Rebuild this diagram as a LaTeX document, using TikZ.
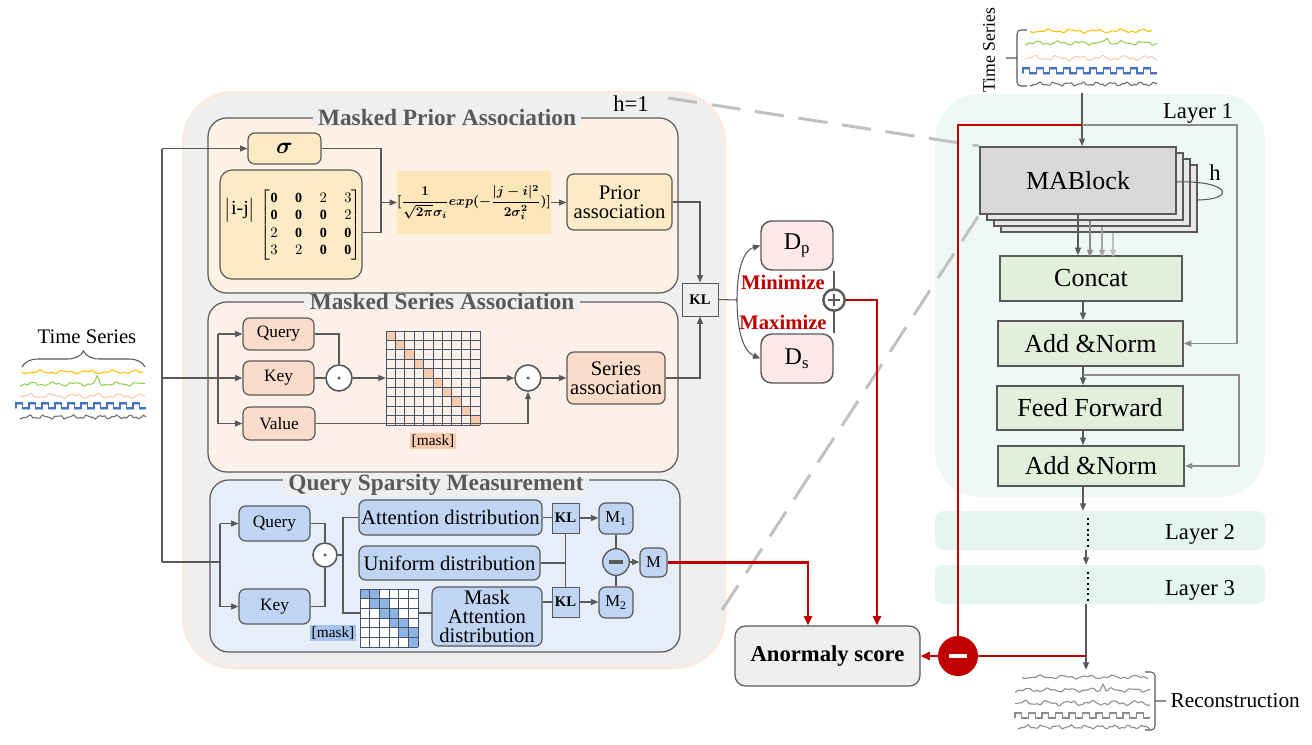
\documentclass[tikz,border=0pt]{standalone}
\usepackage{amsmath}
\usepackage{fontspec}
\setmainfont{Liberation Serif}
\usetikzlibrary{fit,arrows.meta,decorations.pathreplacing,calc}

\definecolor{lc}{HTML}{595959}
\definecolor{bgg}{HTML}{EFEFEF}
\definecolor{bgb}{HTML}{FCE9DC}
\definecolor{mpaf}{HTML}{FEF2E6}
\definecolor{yel}{HTML}{FDEBC6}
\definecolor{yel2}{HTML}{FDE6B9}
\definecolor{msaf}{HTML}{FDF0E9}
\definecolor{pch}{HTML}{F9DCC9}
\definecolor{qsmf}{HTML}{E8EEF9}
\definecolor{blu}{HTML}{C0D4F3}
\definecolor{blu2}{HTML}{8EB4E3}
\definecolor{pnk}{HTML}{FDE9EA}
\definecolor{rd}{HTML}{C00000}
\definecolor{l1f}{HTML}{EEF9F7}
\definecolor{l2f}{HTML}{E5F6F2}
\definecolor{grn}{HTML}{E2EFDA}
\definecolor{mab}{HTML}{D9D9D9}
\definecolor{mabb}{HTML}{E8E8E8}
\definecolor{dsh}{HTML}{C0C0C0}
\definecolor{tyel}{HTML}{FFC000}
\definecolor{tgrn}{HTML}{92D050}
\definecolor{tpch}{HTML}{F8CBAD}
\definecolor{tblu}{HTML}{4472C4}
\definecolor{tgry}{HTML}{6F6F6F}
\definecolor{gridc}{HTML}{44546A}
\definecolor{lg}{HTML}{8C8C8C}

\newcommand\fsz[1]{\fontsize{#1}{#1}\selectfont}
\newcommand\mkbox[7]{\node[inner sep=0pt, minimum width={(#4-#2)*0.75pt}, minimum height={(#5-#3)*0.75pt}, #6] (#1) at ({(#2+#4)/2},{(#3+#5)/2}) {#7};}
% x0 x1 y amp freq phase color spike
\newcommand\tswave[8]{\draw[#7, line width=0.8pt, line join=round] plot[domain=#1:#2, samples=90] (\x, {#3 + #4*(0.55*sin(#5*(\x-#1)+#6) + 0.3*sin(2.3*#5*(\x-#1)+2*#6) + 0.15*sin(3.7*#5*(\x-#1))) - 7*max(0,1-abs(\x-#8)/3)});}
% x0 y n halfperiod height color
\newcommand\tssq[6]{\draw[#6, line width=0.9pt] (#1,#2) \foreach \i in {1,...,#3}{ -- ++(0,-#5) -- ++(#4,0) -- ++(0,#5) -- ++(#4,0)};}

\begin{document}
\begin{tikzpicture}[x=0.75pt,y=-0.75pt,
  box/.style={draw=lc, line width=0.9pt, rounded corners=5pt},
  ln/.style={draw=lc, line width=0.8pt},
  arr/.style={ln, -{Triangle[length=5.5pt,width=4.5pt]}},
  rline/.style={draw=rd, line width=2.2pt},
  rarr/.style={rline, -{Triangle[length=7pt,width=6pt]}},
  gbox/.style={draw=lc, line width=1.5pt, fill=grn, font=\fsz{19.5}},
  ttl/.style={fill=bgg, inner xsep=4pt, inner ysep=0pt, text=lc, font=\fsz{17.5}\bfseries},
  dline/.style={draw=dsh, line width=2.2pt, dash pattern=on 22pt off 11pt},
  circ/.style={circle, draw=lc, line width=1.2pt, fill=white, inner sep=0pt, minimum size=19pt}
]
\useasboundingbox (0,0) rectangle (1312,744);
\fill[white] (0,0) rectangle (1312,744);

% ---------- big left panel ----------
\mkbox{panel}{183}{92}{725}{668}{draw=bgb, line width=1.5pt, fill=bgg, rounded corners=38pt}{}
\node[font=\fsz{17}] (h1t) at (631,104) {h=1};

% ---------- Masked Prior Association ----------
\mkbox{mpa}{208}{118}{678}{293}{draw=lc, line width=0.9pt, fill=mpaf, rounded corners=14pt}{}
\node[ttl] (mpat) at (447,118) {Masked Prior Association};
\mkbox{sig}{248}{133}{321}{164}{box, fill=yel, font=\fsz{17}}{$\boldsymbol{\sigma}$}
\mkbox{mat}{220}{170}{362}{279}{box, fill=yel, rounded corners=9pt}{}
\node[font=\fsz{15}, inner sep=0pt] (ij) at (240,210) {$\big|$i-j$\big|$};
\node[font=\fsz{10.5}, inner sep=0pt] (mtx) at (311,225) {$\renewcommand\arraystretch{1.25}\setlength\arraycolsep{6.5pt}\begin{bmatrix}\mathbf{0}&\mathbf{0}&2&3\\ \mathbf{0}&\mathbf{0}&\mathbf{0}&2\\ 2&\mathbf{0}&\mathbf{0}&\mathbf{0}\\ 3&2&\mathbf{0}&\mathbf{0}\end{bmatrix}$};
\mkbox{frm}{398}{171}{550}{234}{fill=yel2, font=\fsz{10.3}}{{\boldmath$\displaystyle[\frac{1}{\sqrt{2\pi}\sigma_i}exp(-\frac{|j-i|^2}{2\sigma_i^2})]$}}
\mkbox{pri}{567}{174}{672}{230}{box, fill=yel, align=center, font=\fontsize{15.5}{14.5}\selectfont}{Prior\\association}

\coordinate (j1) at (381,202.5);
\draw[ln] (sig.east) -| (j1);
\draw[ln] ($(mat.east)+(0,8)$) -| (j1);
\draw[arr] (j1) -- (frm.west);
\draw[arr] (frm.east) -- (frm.east -| pri.west);

% ---------- Masked Series Association ----------
\mkbox{msa}{208}{302}{678}{472}{draw=lc, line width=0.9pt, fill=msaf, rounded corners=14pt}{}
\node[ttl] (msat) at (442,302) {Masked Series Association};
\mkbox{q1}{243}{318}{314}{350}{box, fill=pch, font=\fsz{13}}{Query}
\mkbox{k1}{243}{361}{314}{395}{box, fill=pch, font=\fsz{13}}{Key}
\mkbox{v1}{243}{407}{315}{440}{box, fill=pch, font=\fsz{13}}{Value}
\node[circ, minimum size=19.5pt] (od1) at (339,378) {};
\fill[lc] (od1) circle (1.3pt);
\node[inner sep=0pt, fit={(386,331)(480,425)}] (g1) {};
\foreach \i in {0,...,9} \fill[tpch] ({386+9.4*\i},{331+9.4*\i}) rectangle ++(9.4,9.4);
\foreach \i in {0,...,10} {\draw[gridc, line width=0.6pt] ({386+9.4*\i},331) -- ({386+9.4*\i},425); \draw[gridc, line width=0.6pt] (386,{331+9.4*\i}) -- (480,{331+9.4*\i});}
\node[fill=tpch, inner sep=1pt, font=\fsz{11.5}] (mk1) at (433,441) {[mask]};
\node[circ, minimum size=19.5pt] (od2) at (528,378) {};
\fill[lc] (od2) circle (1.3pt);
\mkbox{sa}{567}{352}{665}{404}{box, fill=pch, align=center, font=\fontsize{15.5}{14.5}\selectfont}{Series\\association}

\coordinate (mx) at (218,378);
\draw[ln] (q1.west -| mx) -- (v1.west -| mx);
\draw[arr] (q1.west -| mx) -- (q1.west);
\draw[arr] (v1.west -| mx) -- (v1.west);
\draw[ln] (q1.east) -| (od1.north);
\draw[ln] (k1.east) -- (od1.west);
\draw[arr] (od1.east) -- (g1.west);
\draw[arr] (g1.east) -- (od2.west);
\draw[arr] (v1.east) -| (od2.south);
\draw[arr] (od2.east) -- (sa.west);

% ---------- KL ----------
\mkbox{kl}{682}{283}{718}{316}{draw=lc, line width=0.7pt, fill=bgg, font=\fsz{11}\bfseries}{KL}
\draw[arr] (pri.east) -| (kl.north);
\draw[arr] (sa.east) -| (kl.south);

% ---------- Query Sparsity Measurement ----------
\mkbox{qsm}{210}{480}{680}{652}{draw=lc, line width=0.9pt, fill=qsmf, rounded corners=14pt}{}
\node[ttl] (qsmt) at (436,485) {Query Sparsity Measurement};
\mkbox{q2}{239}{506}{310}{541}{box, fill=blu, font=\fsz{13}}{Query}
\mkbox{k2}{239}{589}{310}{624}{box, fill=blu, font=\fsz{13}}{Key}
\node[circ, minimum size=18pt] (od3) at (325,555) {};
\fill[lc] (od3) circle (1.3pt);
\mkbox{ad}{359}{500}{542}{535}{box, fill=blu, font=\fsz{15.5}}{Attention distribution}
\mkbox{ud}{359}{546}{540}{580}{box, fill=blu, font=\fsz{15.5}}{Uniform distribution}
\node[inner sep=0pt, fit={(360,589)(418,647)}] (g2) {};
\fill[white] (360,589) rectangle (418,647);
\foreach \r in {0,...,5} \fill[blu2] ({360+9.667*\r},{589+9.667*\r}) rectangle ++(9.667,9.667);
\foreach \r in {0,...,4} \fill[blu2] ({360+9.667*(\r+1)},{589+9.667*\r}) rectangle ++(9.667,9.667);
\foreach \i in {0,...,6} {\draw[gridc, line width=0.6pt] ({360+9.667*\i},589) -- ({360+9.667*\i},647); \draw[gridc, line width=0.6pt] (360,{589+9.667*\i}) -- (418,{589+9.667*\i});}
\node[fill=blu2!80, inner sep=1pt, font=\fsz{11.5}] (mk2) at (333,633) {[mask]};
\mkbox{mad}{432}{587}{542}{646}{box, fill=blu, align=center, font=\fontsize{15.5}{14}\selectfont}{Mask\\Attention\\distribution}
\mkbox{kl1}{552}{503}{579}{533}{draw=lc, line width=0.7pt, fill=blu, font=\fsz{11}\bfseries}{KL}
\mkbox{kl2}{552}{587}{579}{617}{draw=lc, line width=0.7pt, fill=blu, font=\fsz{11}\bfseries}{KL}
\mkbox{m1}{599}{503}{633}{534}{box, fill=blu, font=\fsz{12.5}}{M\textsubscript{1}}
\mkbox{m2}{599}{587}{633}{618}{box, fill=blu, font=\fsz{12.5}}{M\textsubscript{2}}
\node[circle, draw=lc, line width=1pt, fill=blu, minimum size=20pt, inner sep=0pt] (mc) at (616,562) {};
\draw[lc, line width=2.6pt] (609,562) -- (623,562);
\mkbox{mm}{640}{548}{667}{577}{box, fill=blu, font=\fsz{12.5}}{M}

\coordinate (qx) at (220,562);
\coordinate (lt) at (162,148.5);
\coordinate (lb) at (162,562);
\draw[ln] (lb) -- (lt);
\draw[arr] (lt) -- (sig.west);
\draw[ln] (lb) -- (qx);
\draw[ln] (q2.west -| qx) -- (k2.west -| qx);
\draw[arr] (q2.west -| qx) -- (q2.west);
\draw[arr] (k2.west -| qx) -- (k2.west);
\coordinate (tsr) at (162,378);
\draw[arr] (tsr) -- (k1.west);
\draw[ln] (q2.east) -| (od3.north);
\draw[ln] (k2.east) -| (od3.south);
\coordinate (j3) at (343,555);
\draw[ln] (od3.east) -- (j3);
\draw[ln] (j3) |- (ad.west);
\draw[ln] (j3) |- ($(g2.west)+(0,-5)$);
\draw[ln] ($(g2.east)+(0,-5)$) -- ($(g2.east)+(14,-5)$);
\draw[ln] (ad.east) -- (ad.east -| kl1.west);
\draw[ln] (kl2.west -| mad.east) -- (kl2.west);
\draw[ln] (kl1.south) -- (kl2.north);
\draw[ln] (ud.east) -- (ud.east -| kl1.south);
\draw[arr] (kl1.east) -- (kl1.east -| m1.west);
\draw[arr] (kl2.east) -- (kl2.east -| m2.west);
\draw[ln] (m1.south) -- (mc.north);
\draw[ln] (m2.north) -- (mc.south);
\draw[arr] (mc.east) -- (mc.east -| mm.west);

% ---------- left time series ----------
\node[font=\fsz{15.5}] (tsl) at (87,337) {Time Series};
\draw[lc, line width=0.8pt, decorate, decoration={brace, amplitude=12pt}] (22,367) -- (145,367);
\tswave{22}{143}{372}{2.2}{15}{0}{tyel}{0}
\tswave{20}{145}{384}{2.4}{17}{60}{tgrn}{97}
\tswave{20}{145}{396}{3}{16}{120}{tpch}{0}
\tssq{16}{409}{10}{6.5}{5}{tblu!45}
\tssq{16}{408}{10}{6.5}{5}{tblu}
\tswave{20}{146}{417}{2.4}{25}{30}{tgry}{0}

% ---------- D_p / D_s ----------
\mkbox{dp}{761}{221}{833}{270}{box, line width=1.1pt, rounded corners=8pt, fill=pnk, font=\fsz{18}}{D\textsubscript{p}}
\mkbox{ds}{761}{334}{833}{383}{box, line width=1.1pt, rounded corners=8pt, fill=pnk, font=\fsz{18}}{D\textsubscript{s}}
\coordinate (kc) at (737,300);
\draw[ln] (kl.east) -- (kc);
\draw[arr] (kc) .. controls (737,265) and (745,250) .. (dp.west);
\draw[arr] (kc) .. controls (737,335) and (745,352) .. (ds.west);
\node[text=rd, font=\fsz{15.5}\bfseries] (minz) at (783,282) {Minimize};
\node[text=rd, font=\fsz{15.5}\bfseries] (maxz) at (783,322) {Maximize};
\node[circle, draw=lc, line width=1.8pt, fill=white, minimum size=16pt, inner sep=0pt] (pl) at (834,300) {};
\draw[lc, line width=2pt] (828,300) -- (840,300) (834,294) -- (834,306);
\draw[ln, line width=1pt] (pl.north) -- (pl.north |- dp.south);
\draw[ln, line width=1pt] (pl.south) -- (pl.south |- ds.north);

% ---------- Anormaly score ----------
\mkbox{an}{735}{626}{920}{686}{box, fill=bgg, rounded corners=8pt, font=\fsz{17}\bfseries}{Anormaly score}

% ---------- right side ----------
\mkbox{L1}{935}{94}{1265}{497}{fill=l1f, rounded corners=34pt}{}
\node[font=\fsz{17}] (l1t) at (1198,113) {Layer 1};
\mkbox{L2}{935}{511}{1265}{550}{fill=l2f, rounded corners=6pt}{}
\node[font=\fsz{17}] (l2t) at (1200,534) {Layer 2};
\mkbox{L3}{935}{565}{1265}{604}{fill=l2f, rounded corners=6pt}{}
\node[font=\fsz{17}] (l3t) at (1200,590) {Layer 3};

% top time series
\node[rotate=90, font=\fsz{13.3}] (tsr2) at (989,50) {Time Series};
\draw[lc, line width=0.8pt, rounded corners=3pt] (1027,30) -- (1017,30) -- (1017,86) -- (1027,86) (1017,58) -- (1006,58);
\tswave{1030}{1152}{31}{2.2}{15}{0}{tyel}{0}
\tswave{1025}{1157}{43}{2.4}{17}{60}{tgrn}{1107}
\tswave{1025}{1157}{58}{3}{16}{120}{tpch}{0}
\tssq{1023}{74}{10}{6.7}{5}{tblu!45}
\tssq{1023}{73}{10}{6.7}{5}{tblu}
\tswave{1030}{1157}{84}{2.4}{25}{30}{tgry}{0}

% dashed zoom lines
\coordinate (hd) at (668,98);
\coordinate (dl) at (722,610);

% MABlock stack
\foreach \k in {3,2,1} \draw[lc, line width=1.5pt, fill=mabb] ({980+7*\k},{147+6*\k}) rectangle ({1176+7*\k},{214+6*\k});
\mkbox{mab}{980}{147}{1176}{214}{draw=lc, line width=1.5pt, fill=mab, font=\fsz{19.5}}{MABlock}
\draw[dline] (hd) -- (mab.north west);
\draw[dline] (dl) -- (mab.south west);
\node[font=\fsz{17}] (ht) at (1215,173) {h};
\draw[ln] (1176,182) .. controls (1228,180) and (1238,199) .. (1198,200);

\mkbox{cc}{1000}{256}{1182}{301}{gbox}{Concat}
\mkbox{an1}{998}{321}{1183}{366}{gbox}{Add \&Norm}
\mkbox{ff}{997}{386}{1183}{430}{gbox}{Feed Forward}
\mkbox{an2}{998}{446}{1184}{486}{gbox}{Add \&Norm}

\draw[arr] (mab.south) -- (mab.south |- cc.north);
\draw[arr, draw=lg] ($(mab.south)+(12,6)$) -- ($(mab.south)+(12,42)$);
\draw[arr, draw=lg!80] ($(mab.south)+(24,12)$) -- ($(mab.south)+(24,42)$);
\draw[arr, draw=lg!55] ($(mab.south)+(35,18)$) -- ($(mab.south)+(35,42)$);

\coordinate (ax) at (1083,0);
\coordinate (dx) at (1086,0);
\draw[arr] (cc.south -| ax) -- (an1.north -| ax);
\draw[arr] (an1.south -| ax) -- (ff.north -| ax);
\draw[arr] (ff.south -| ax) -- (an2.north -| ax);
\draw[arr] (an2.south -| ax) -- (L2.north -| ax);
\coordinate (b1) at (1083,375);
\coordinate (b2) at (1239,375);
\draw[arr, draw=lg] (b1) -- (b2) |- (an2.east);
\coordinate (tsb) at (1082,93);
\coordinate (tj) at (1082,125);
\coordinate (rc) at (1237,125);
\draw[arr] (tsb) -- (mab.north -| tsb);
\draw[arr, draw=lg] (tj) -- (rc) |- (an1.east);
\draw[black, line width=1.6pt, dash pattern=on 1.6pt off 2.4pt] (1088,518) -- (1088,548);
\draw[black, line width=1.6pt, dash pattern=on 1.6pt off 2.4pt] (1088,572) -- (1088,602);
\draw[arr] (L2.south -| dx) -- (L3.north -| dx);

% reconstruction
\node[inner sep=0pt, fit={(1014,670)(1152,732)}] (rec) {};
\tswave{1022}{1148}{677}{2.2}{15}{0}{lg}{0}
\tswave{1015}{1150}{690}{2.4}{17}{60}{lg}{1103}
\tswave{1015}{1150}{703}{3}{16}{120}{lg}{0}
\tssq{1015}{718}{10}{6.75}{5}{lg}
\tswave{1018}{1150}{727}{2.4}{25}{30}{lg}{0}
\draw[lc, line width=0.8pt, rounded corners=3pt] (1145,672) -- (1155,672) -- (1155,730) -- (1145,730) (1155,701) -- (1166,701);
\node[font=\fsz{16}, anchor=west] (rect) at (1166,701) {Reconstruction};
\draw[arr] (L3.south -| dx) -- (rec.north -| dx);

% red lines
\node[circle, fill=rd, minimum size=30pt, inner sep=0pt] (mn) at (958,656) {};
\draw[white, line width=2.5pt] (949,656) -- (967,656);
\coordinate (rx1) at (877,300);
\coordinate (rx2) at (808,562);
\draw[rarr] (pl.east) -| (an.north -| rx1);
\draw[rarr] (mm.east) -| (an.north -| rx2);
\draw[rarr] (mn.west) -- (an.east);
\draw[rline] (mn.east) -- (mn.east -| dx);
\draw[rline] (mn.north) |- (tj);
\end{tikzpicture}
\end{document}
